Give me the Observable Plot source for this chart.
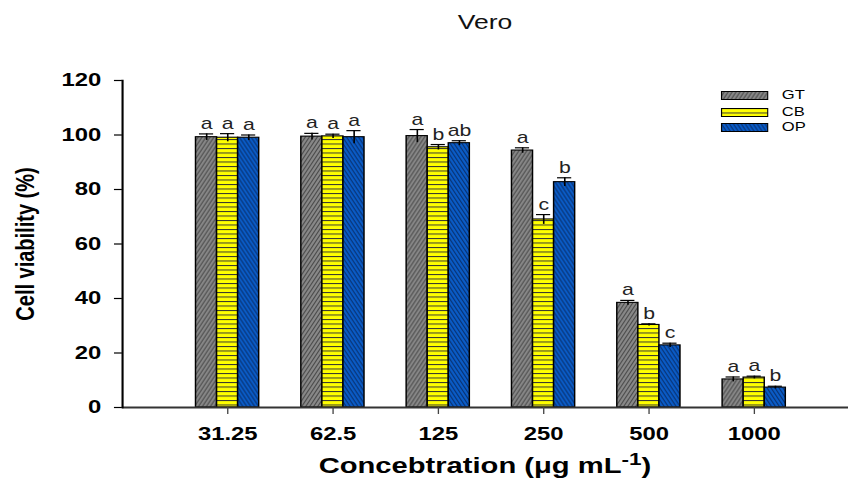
<!DOCTYPE html>
<html><head><meta charset="utf-8">
<script src="https://cdn.jsdelivr.net/npm/d3@7"></script>
<script src="https://cdn.jsdelivr.net/npm/@observablehq/plot@0.6"></script>
<style>
html,body{margin:0;padding:0;background:#fff;width:848px;height:478px;overflow:hidden;}
#page{position:relative;width:640px;height:478px;transform:scaleX(1.325);transform-origin:0 0;font-family:"Liberation Sans",Arial,sans-serif;color:#000;}
#title{position:absolute;left:92px;width:548px;top:12px;text-align:center;font-size:20px;line-height:20px;color:#111;}
#chart{position:absolute;left:0;top:40px;}
#xlabel{position:absolute;left:92px;width:548px;top:455px;text-align:center;font-size:22px;font-weight:bold;line-height:22px;white-space:nowrap;}
#xlabel sup{font-size:17px;line-height:0;vertical-align:0;position:relative;top:-8px;}
.lg{position:absolute;left:544px;height:16px;display:flex;align-items:center;font-size:12.5px;}
.lg svg{margin-right:10px;}
</style>
</head><body>
<svg width="0" height="0" style="position:absolute">
<defs>
<pattern id="pGT" patternUnits="userSpaceOnUse" width="3" height="6">
 <rect width="3" height="6" fill="#888888"/>
 <path d="M-1,2 L1,-2 M0,6 L3,0 M2,8 L4,4" stroke="#4a4a4a" stroke-width="0.9"/>
</pattern>
<pattern id="pCB" patternUnits="userSpaceOnUse" width="4" height="4.5">
 <rect width="4" height="4.5" fill="#ffff00"/>
 <path d="M0,0.5 L4,0.5" stroke="#333" stroke-width="1"/>
</pattern>
<pattern id="pOP" patternUnits="userSpaceOnUse" width="3" height="6">
 <rect width="3" height="6" fill="#0a5cc8"/>
 <path d="M-1,4 L1,8 M0,0 L3,6 M2,-2 L4,2" stroke="#08306e" stroke-width="0.9"/>
</pattern>
</defs>
</svg>
<div id="page">
 <div id="title">Vero</div>
 <div id="chart"></div>
 <div id="xlabel">Concebtration (μg mL<sup>-1</sup>)</div>
 <div id="legend"></div>
</div>
<script>
// ---- data ----
const concentrations = ["31.25", "62.5", "125", "250", "500", "1000"];
const seriesNames = ["GT", "CB", "OP"];
const GT = [99.2, 99.4, 99.6, 94.3, 38.4, 10.3];
const CB = [99.0, 99.5, 95.5, 69.0, 30.3, 11.0];
const OP = [99.0, 99.2, 97.0, 82.7, 22.8, 7.3];
const GT_err = [1.2, 1.2, 2.4, 1.0, 0.9, 0.9];
const CB_err = [1.5, 0.8, 1.0, 1.8, 0.4, 0.5];
const OP_err = [1.0, 2.4, 0.9, 1.6, 0.8, 0.5];
const GT_letters = ["a", "a", "a", "a", "a", "a"];
const CB_letters = ["a", "a", "b", "c", "b", "a"];
const OP_letters = ["a", "a", "ab", "b", "c", "b"];
const yTicks = [0, 20, 40, 60, 80, 100, 120];
const yLabel = "Cell viability (%)";

// ---- layout ----
const W = 640, H = 438, mL = 92, mR = 0, mT = 40, mB = 71;
const pIn = 0.4, pOut = 0.647, align = 0.54;
const step = (W - mL - mR) / (concentrations.length - pIn + 2 * pOut);
const bw = step * (1 - pIn);
const sub = bw / 3;
const capInset = 2.6;

const fills = {GT: "url(#pGT)", CB: "url(#pCB)", OP: "url(#pOP)"};
const vals = {GT, CB, OP};
const errs = {GT: GT_err, CB: CB_err, OP: OP_err};
const lets = {GT: GT_letters, CB: CB_letters, OP: OP_letters};

const rows = seriesNames.flatMap((s) => concentrations.map((c, j) => ({
  conc: c, series: s, value: vals[s][j], err: errs[s][j], letter: lets[s][j]
})));

const marks = [];
seriesNames.forEach((s, i) => {
  const data = rows.filter((r) => r.series === s);
  marks.push(Plot.barY(data, {x: "conc", y: "value", fill: fills[s], stroke: "#000", strokeWidth: 1.1,
    insetLeft: i * sub, insetRight: (2 - i) * sub}));
});
seriesNames.forEach((s, i) => {
  const data = rows.filter((r) => r.series === s);
  const dx = (i - 1) * sub;
  marks.push(Plot.ruleX(data, {x: "conc", y1: (d) => d.value - d.err, y2: (d) => d.value + d.err, dx, stroke: "#000", strokeWidth: 1.2}));
  marks.push(Plot.tickY(data, {x: "conc", y: (d) => d.value + d.err, insetLeft: i * sub + capInset, insetRight: (2 - i) * sub + capInset, stroke: "#000", strokeWidth: 1.2}));
  marks.push(Plot.text(data, {x: "conc", y: (d) => d.value + d.err, text: "letter", dx, dy: -5, lineAnchor: "bottom", fontSize: 16, fill: "#222"}));
});

const chart = Plot.plot({
  width: W, height: H,
  marginLeft: mL, marginRight: mR, marginTop: mT, marginBottom: mB,
  style: {fontFamily: "Liberation Sans, Arial, sans-serif", color: "#000", background: "transparent", overflow: "visible"},
  x: {type: "band", domain: concentrations, paddingInner: pIn, paddingOuter: pOut, align, round: false, label: null},
  y: {domain: [0, 120], label: null},
  marks: [
    ...marks,
    Plot.ruleY([0], {stroke: "#333", strokeWidth: 2}),
    Plot.frame({anchor: "left", stroke: "#000", strokeWidth: 1.6}),
    Plot.axisY({ticks: yTicks, tickSize: 6, tickPadding: 10, fontSize: 18, fontWeight: "bold", label: null, strokeWidth: 1.2}),
    Plot.axisX({tickSize: 7, tickPadding: 13, fontSize: 18, fontWeight: "bold", label: null, stroke: "#444"}),
    Plot.text([yLabel], {text: (d) => d, frameAnchor: "left", textAnchor: "middle", rotate: -90, dx: -73, fontSize: 20, fontWeight: "bold"})
  ]
});
document.getElementById("chart").appendChild(chart);

// legend
const legendTops = [87, 104, 119];
const legend = document.getElementById("legend");
seriesNames.forEach((s, i) => {
  const row = document.createElement("div");
  row.className = "lg";
  row.style.top = legendTops[i] + "px";
  row.innerHTML = `<svg width="36" height="9"><rect x="0.5" y="0.5" width="35" height="8" fill="${fills[s]}" stroke="#000" stroke-width="1"/></svg><span>${s}</span>`;
  legend.appendChild(row);
});
</script>
</body></html>
